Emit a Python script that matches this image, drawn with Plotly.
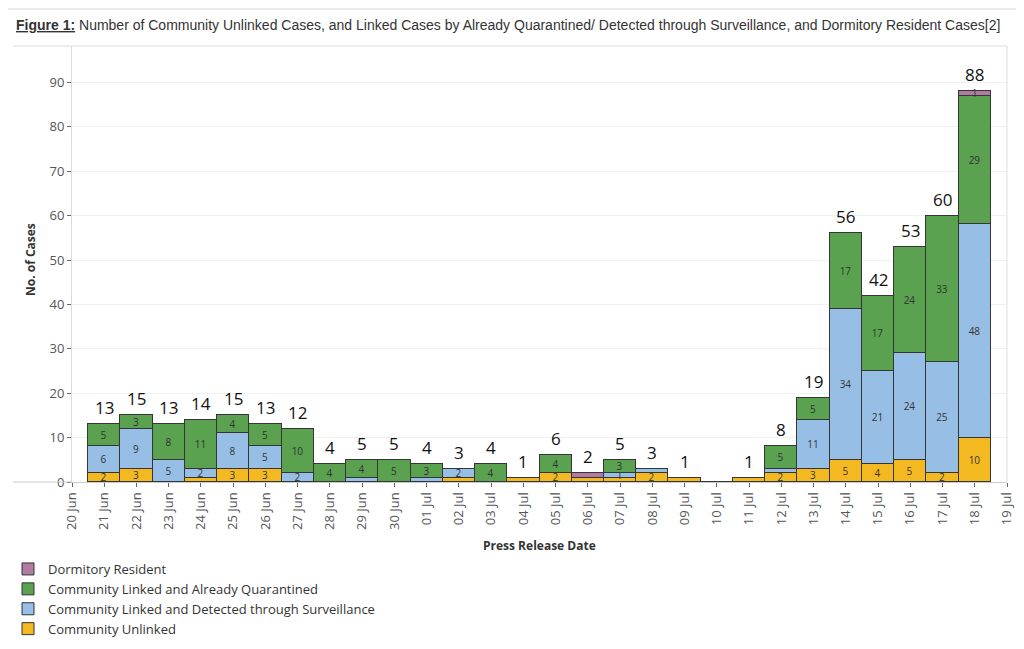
import plotly.graph_objects as go

# ---- data ----
dates = ["2020-06-21", "2020-06-22", "2020-06-23", "2020-06-24", "2020-06-25", "2020-06-26",
         "2020-06-27", "2020-06-28", "2020-06-29", "2020-06-30", "2020-07-01", "2020-07-02",
         "2020-07-03", "2020-07-04", "2020-07-05", "2020-07-06", "2020-07-07", "2020-07-08",
         "2020-07-09", "2020-07-10", "2020-07-11", "2020-07-12", "2020-07-13", "2020-07-14",
         "2020-07-15", "2020-07-16", "2020-07-17", "2020-07-18"]
unlinked =     [2, 3, 0, 1, 3, 3, 0, 0, 0, 0, 0, 1, 0, 1, 2, 1, 1, 2, 1, 0, 1, 2, 3, 5, 4, 5, 2, 10]
surveillance = [6, 9, 5, 2, 8, 5, 2, 0, 1, 0, 1, 2, 0, 0, 0, 0, 1, 1, 0, 0, 0, 1, 11, 34, 21, 24, 25, 48]
quarantined =  [5, 3, 8, 11, 4, 5, 10, 4, 4, 5, 3, 0, 4, 0, 4, 0, 3, 0, 0, 0, 0, 5, 5, 17, 17, 24, 33, 29]
dormitory =    [0, 0, 0, 0, 0, 0, 0, 0, 0, 0, 0, 0, 0, 0, 0, 1, 0, 0, 0, 0, 0, 0, 0, 0, 0, 0, 0, 1]

series_names = ["Community Unlinked",
                "Community Linked and Detected through Surveillance",
                "Community Linked and Already Quarantined",
                "Dormitory Resident"]
series_values = [unlinked, surveillance, quarantined, dormitory]
series_colors = ["#F4B921", "#97BFE5", "#5AA150", "#B07AA1"]
# single-case segments that carry a visible label in the original
labelled_ones = {("Community Linked and Detected through Surveillance", "2020-07-07"),
                 ("Dormitory Resident", "2020-07-18")}

title_text = ("<b><u>Figure 1:</u></b> Number of Community Unlinked Cases, and Linked Cases by "
              "Already Quarantined/ Detected through Surveillance, and Dormitory Resident Cases[2]")

FONT = "Open Sans, Noto Sans, sans-serif"
DAY_MS = 86400000

# page body has an 8px margin, so the figure is laid out 8px in from the top-left
W, H = 1008, 633
ML, MR, MT, MB = 64, 9, 38, 159
PW, PH = W - ML - MR, H - MT - MB


def px_x(x):  # figure pixel -> paper x
    return (x - ML) / PW


def px_y(y):  # figure pixel -> paper y
    return (H - MB - y) / PH


fig = go.Figure()
for name, vals, col in zip(series_names, series_values, series_colors):
    txt = []
    for d, v in zip(dates, vals):
        if v >= 2 or (v == 1 and (name, d) in labelled_ones):
            txt.append(str(v))
        else:
            txt.append("")
    fig.add_trace(go.Bar(
        x=dates, y=vals, name=name, width=DAY_MS,
        marker=dict(color=col, line=dict(color="#353535", width=1)),
        text=txt, textposition="inside", insidetextanchor="middle", textangle=0,
        textfont=dict(size=10, color="#333333", family=FONT),
        hoverinfo="x+y+name",
    ))

totals = [sum(v) for v in zip(*series_values)]
for d, t in zip(dates, totals):
    if t > 0:
        fig.add_annotation(x=d, y=t, text=str(t), showarrow=False, yanchor="bottom",
                           yshift=3, font=dict(size=17, color="#111111", family=FONT))

# title
fig.add_annotation(xref="paper", yref="paper", x=px_x(6), y=px_y(17),
                   xanchor="left", yanchor="middle", text=title_text, showarrow=False,
                   font=dict(size=14, color="#333333", family="Liberation Sans Narrow, Arial Narrow, sans-serif"))
# axis titles
fig.add_annotation(xref="paper", yref="paper", x=px_x(22), y=px_y(252), textangle=-90,
                   xanchor="center", yanchor="middle", showarrow=False,
                   text="<b>No. of Cases</b>", font=dict(size=12, color="#333333", family=FONT))
fig.add_annotation(xref="paper", yref="paper", x=0.5, y=px_y(537),
                   xanchor="center", yanchor="middle", showarrow=False,
                   text="<b>Press Release Date</b>", font=dict(size=12, color="#333333", family=FONT))

# frame lines
line_col = "#dcdcdc"
fig.add_shape(type="line", xref="paper", yref="paper", x0=px_x(0), x1=px_x(W), y0=px_y(1), y1=px_y(1),
              line=dict(color="#ececec", width=2))
fig.add_shape(type="line", xref="paper", yref="paper", x0=px_x(5), x1=1, y0=1, y1=1,
              line=dict(color=line_col, width=1))
fig.add_shape(type="line", xref="paper", yref="paper", x0=1, x1=1, y0=0, y1=1,
              line=dict(color=line_col, width=1))
fig.add_shape(type="line", xref="paper", yref="paper", x0=px_x(5), x1=0, y0=0, y1=0,
              line=dict(color="#cccccc", width=1))

fig.update_layout(
    width=W, height=H,
    margin=dict(l=ML, r=MR, t=MT, b=MB, autoexpand=False),
    barmode="stack", bargap=0,
    plot_bgcolor="white", paper_bgcolor="white",
    font=dict(family=FONT, color="#333333"),
    uniformtext=dict(minsize=10, mode="show"),
    showlegend=True,
    legend=dict(xref="container", yref="container", x=0, xanchor="left",
                y=1 - 546 / H, yanchor="top",
                traceorder="reversed", font=dict(size=13, color="#333333", family=FONT),
                itemwidth=30, tracegroupgap=0, bgcolor="rgba(0,0,0,0)"),
    xaxis=dict(
        type="date", range=["2020-06-20", "2020-07-19"],
        tick0="2020-06-20", dtick=DAY_MS, tickformat="%d %b", tickangle=-90,
        ticks="outside", ticklen=4, tickcolor="#666666",
        tickfont=dict(size=13, color="#555555", family=FONT),
        showline=True, linecolor="#cccccc", linewidth=1, showgrid=False,
        automargin=False,
    ),
    yaxis=dict(
        range=[0, 98.2], dtick=10, tick0=0,
        ticks="outside", ticklen=4, tickcolor="#666666",
        tickfont=dict(size=13, color="#555555", family=FONT),
        showgrid=True, gridcolor="#f0f0f0", zeroline=False,
        showline=True, linecolor=line_col, linewidth=1,
        automargin=False,
    ),
)

fig.write_html("out.html")
